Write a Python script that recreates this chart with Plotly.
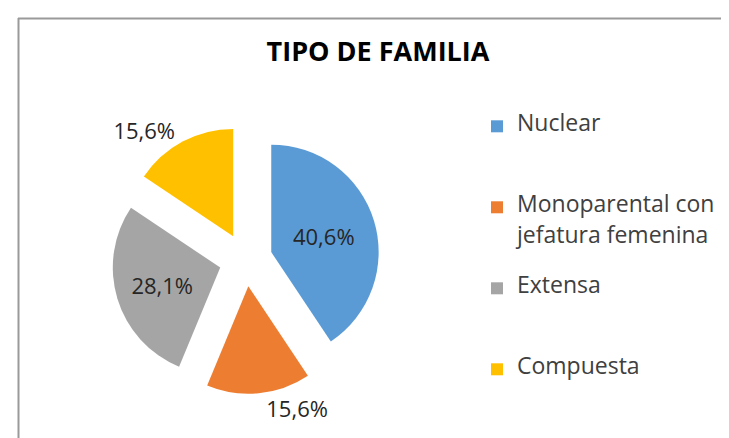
import plotly.graph_objects as go

categories = ["Nuclear", "Monoparental con jefatura femenina", "Extensa", "Compuesta"]
legend_lines = [["Nuclear"], ["Monoparental con", "jefatura femenina"], ["Extensa"], ["Compuesta"]]
percentages = [40.6, 15.6, 28.1, 15.6]
colors = ["#5B9BD5", "#ED7D31", "#A5A5A5", "#FFC000"]
text_positions = ["inside", "outside", "inside", "outside"]
title_text = "TIPO DE FAMILIA"

FONT = "Open Sans"
W, H = 729, 438

# legend labels: 23px glyphs on a fine 12px line grid (15.6px per line);
# text lines sit every 2 grid lines, each entry spans 5 grid lines
SPACER = "&nbsp;"
legend_labels = []
for i, lines in enumerate(legend_lines):
    grid = []
    for j, ln in enumerate(lines):
        if j > 0:
            grid.append(SPACER)
        grid.append("<span style='font-size:23px'>" + ln + "</span>")
    if i < len(legend_lines) - 1:
        grid += [SPACER] * (5 - len(grid))
    legend_labels.append("<br>".join(grid))

fig = go.Figure(
    go.Pie(
        labels=legend_labels,
        values=percentages,
        sort=False,
        direction="clockwise",
        rotation=0,
        pull=[0.248] * 4,
        marker=dict(colors=colors, line=dict(width=0)),
        texttemplate="%{value:.1f}%",
        textposition=text_positions,
        insidetextorientation="horizontal",
        textfont=dict(family=FONT, size=22, color="#262626"),
        domain=dict(x=[0.1420, 0.5102], y=[0.1190, 0.7312]),
        hovertext=categories,
        hoverinfo="text+value",
        automargin=False,
    )
)

fig.update_layout(
    width=W,
    height=H,
    margin=dict(l=0, r=0, t=0, b=0),
    paper_bgcolor="white",
    plot_bgcolor="white",
    separators=",.",
    title=dict(
        text="<b>" + title_text + "</b>",
        x=370 / W,
        xanchor="center",
        y=1 - 44 / H,
        yanchor="middle",
        font=dict(family=FONT, size=27, color="#000000"),
    ),
    legend=dict(
        x=469 / W,
        xanchor="left",
        y=1 - 104 / H,
        yanchor="top",
        valign="top",
        font=dict(family=FONT, size=12, color="#404040"),
        bgcolor="rgba(0,0,0,0)",
        itemclick=False,
    ),
    shapes=[
        dict(type="line", xref="paper", yref="paper", x0=10 / W, x1=1.0, y0=1 - 10.5 / H, y1=1 - 10.5 / H,
             line=dict(color="#9a9a9a", width=2)),
        dict(type="line", xref="paper", yref="paper", x0=10.5 / W, x1=10.5 / W, y0=0, y1=1 - 10 / H,
             line=dict(color="#9a9a9a", width=2)),
    ],
)

fig.write_html("out.html")
